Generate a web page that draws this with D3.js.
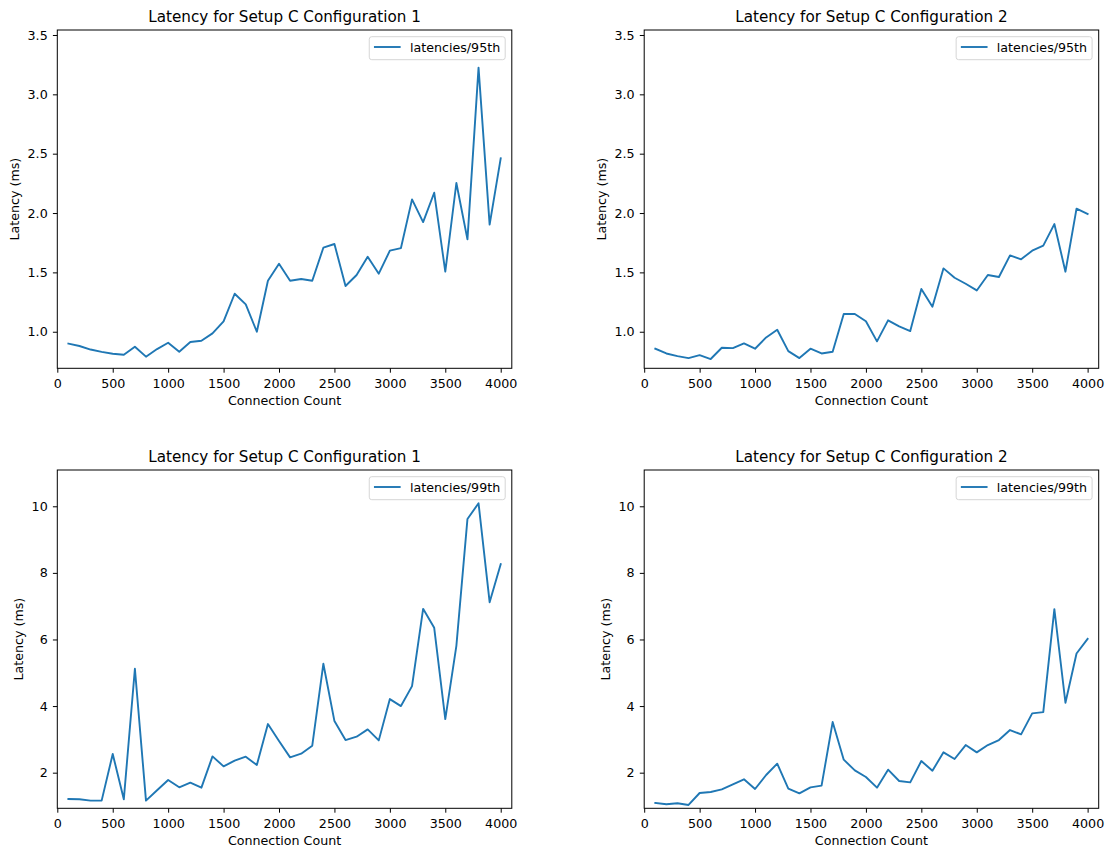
<!DOCTYPE html>
<html>
<head>
<meta charset="utf-8">
<script src="https://cdn.jsdelivr.net/npm/d3@7"></script>
<style>
  body { margin: 0; background: #fff; }
  svg { display: block; font-family: "DejaVu Sans", sans-serif; }
</style>
</head>
<body>
<svg id="chart" width="1108" height="849"></svg>
<script>
// Connection counts sampled in every run
const connectionCounts = [
  100, 200, 300, 400, 500, 600, 700, 800, 900, 1000,
  1100, 1200, 1300, 1400, 1500, 1600, 1700, 1800, 1900, 2000,
  2100, 2200, 2300, 2400, 2500, 2600, 2700, 2800, 2900, 3000,
  3100, 3200, 3300, 3400, 3500, 3600, 3700, 3800, 3900, 4000
];

// 95th percentile latency (ms)
const latency95Config1 = [
  0.90, 0.88, 0.85, 0.83, 0.815, 0.806, 0.874, 0.79, 0.854, 0.907,
  0.831, 0.913, 0.924, 0.986, 1.087, 1.32, 1.23, 1.0, 1.43, 1.573,
  1.43, 1.444, 1.43, 1.708, 1.739, 1.385, 1.478, 1.632, 1.489, 1.683,
  1.705, 2.115, 1.924, 2.171, 1.506, 2.253, 1.778, 3.225, 1.902, 2.461
];
const latency95Config2 = [
  0.857, 0.817, 0.795, 0.778, 0.803, 0.77, 0.865, 0.862, 0.902, 0.857,
  0.952, 1.017, 0.837, 0.778, 0.857, 0.817, 0.831, 1.149, 1.149, 1.088,
  0.919, 1.096, 1.045, 1.006, 1.36, 1.21, 1.534, 1.455, 1.404, 1.348,
  1.478, 1.461, 1.643, 1.61, 1.683, 1.725, 1.907, 1.506, 2.037, 1.992
];

// 99th percentile latency (ms)
const latency99Config1 = [
  1.21, 1.20, 1.16, 1.16, 2.56, 1.20, 5.12, 1.16, 1.47, 1.78,
  1.56, 1.70, 1.55, 2.49, 2.19, 2.36, 2.48, 2.23, 3.46, 2.95,
  2.46, 2.57, 2.81, 5.27, 3.55, 2.98, 3.08, 3.30, 2.97, 4.21,
  4.00, 4.60, 6.92, 6.35, 3.61, 5.81, 9.62, 10.09, 7.12, 8.26
];
const latency99Config2 = [
  1.09, 1.05, 1.08, 1.03, 1.39, 1.42, 1.50, 1.65, 1.80, 1.51,
  1.93, 2.27, 1.52, 1.38, 1.56, 1.61, 3.52, 2.39, 2.07, 1.87,
  1.55, 2.09, 1.75, 1.71, 2.35, 2.06, 2.61, 2.41, 2.83, 2.61,
  2.83, 2.98, 3.28, 3.15, 3.78, 3.82, 6.91, 4.10, 5.58, 6.02
];

// Tick labels
const xTickValues = [0, 500, 1000, 1500, 2000, 2500, 3000, 3500, 4000];
const yTicks95 = [1.0, 1.5, 2.0, 2.5, 3.0, 3.5];
const yTicks99 = [2, 4, 6, 8, 10];

const panelTitles = ["Latency for Setup C Configuration 1", "Latency for Setup C Configuration 2"];
const seriesNames = ["latencies/95th", "latencies/99th"];
const xLabel = "Connection Count";
const yLabel = "Latency (ms)";

// ---- layout ----
const FONT = 12.66;
const TITLE_FONT = 15.2;
const plotW = 454.5;
const plotH = 338.3;
const colLeft = [57.3, 644.2];
const rowTop = [30, 470];
const LINE_COLOR = "#1f77b4";

const panels = [
  { col: 0, row: 0, values: latency95Config1, title: panelTitles[0], name: seriesNames[0], yTicks: yTicks95, yDomain: [0.692, 3.542], fmt: d3.format(".1f") },
  { col: 1, row: 0, values: latency95Config2, title: panelTitles[1], name: seriesNames[0], yTicks: yTicks95, yDomain: [0.692, 3.542], fmt: d3.format(".1f") },
  { col: 0, row: 1, values: latency99Config1, title: panelTitles[0], name: seriesNames[1], yTicks: yTicks99, yDomain: [0.93, 11.09], fmt: d3.format("d") },
  { col: 1, row: 1, values: latency99Config2, title: panelTitles[1], name: seriesNames[1], yTicks: yTicks99, yDomain: [0.93, 11.09], fmt: d3.format("d") }
];

const svg = d3.select("#chart");

panels.forEach(p => {
  const g = svg.append("g")
    .attr("transform", `translate(${colLeft[p.col]},${rowTop[p.row]})`);

  const x = d3.scaleLinear().domain([0, 4100]).range([0, plotW]);
  const y = d3.scaleLinear().domain(p.yDomain).range([plotH, 0]);

  // x axis
  const xAxis = g.append("g")
    .attr("transform", `translate(0,${plotH})`)
    .call(d3.axisBottom(x).tickValues(xTickValues).tickFormat(d3.format("d"))
      .tickSize(4.4).tickPadding(6.2).tickSizeOuter(0));
  xAxis.select(".domain").remove();
  xAxis.selectAll("line").attr("stroke", "#000").attr("stroke-width", 1);
  xAxis.selectAll("text").attr("fill", "#000").style("font-size", FONT + "px").style("font-family", "DejaVu Sans, sans-serif");

  // y axis
  const yAxis = g.append("g")
    .call(d3.axisLeft(y).tickValues(p.yTicks).tickFormat(p.fmt).tickSize(4.4).tickPadding(5.2).tickSizeOuter(0));
  yAxis.select(".domain").remove();
  yAxis.selectAll("line").attr("stroke", "#000").attr("stroke-width", 1);
  yAxis.selectAll("text").attr("fill", "#000").style("font-size", FONT + "px").style("font-family", "DejaVu Sans, sans-serif");

  // series line
  const line = d3.line()
    .x((d, i) => x(connectionCounts[i]))
    .y(d => y(d));
  g.append("path")
    .datum(p.values)
    .attr("d", line)
    .attr("fill", "none")
    .attr("stroke", LINE_COLOR)
    .attr("stroke-width", 1.9)
    .attr("stroke-linejoin", "round")
    .attr("stroke-linecap", "square");

  // axes frame
  g.append("rect")
    .attr("x", 0).attr("y", 0)
    .attr("width", plotW).attr("height", plotH)
    .attr("fill", "none")
    .attr("stroke", "#000")
    .attr("stroke-width", 1);

  // title
  g.append("text")
    .attr("x", plotW / 2).attr("y", -7.6)
    .attr("text-anchor", "middle")
    .attr("fill", "#000")
    .style("font-size", TITLE_FONT + "px")
    .text(p.title);

  // x label
  g.append("text")
    .attr("x", plotW / 2).attr("y", plotH + 36.7)
    .attr("text-anchor", "middle")
    .attr("fill", "#000")
    .style("font-size", FONT + "px")
    .text(xLabel);

  // y label, placed just left of the widest tick label
  let minX = 0;
  yAxis.selectAll("text").each(function () {
    const b = this.getBBox();
    minX = Math.min(minX, b.x);
  });
  g.append("text")
    .attr("transform", `translate(${minX - 8.8},${plotH / 2}) rotate(-90)`)
    .attr("text-anchor", "middle")
    .attr("fill", "#000")
    .style("font-size", FONT + "px")
    .text(yLabel);

  // legend
  const legend = g.append("g");
  const legendText = legend.append("text")
    .attr("fill", "#000")
    .style("font-size", FONT + "px")
    .text(p.name);
  const textW = legendText.node().getComputedTextLength();
  const boxW = 4.7 + 26.7 + 9.3 + textW + 5;
  const boxH = 23;
  const boxRight = plotW - 6.6;
  const boxLeft = boxRight - boxW;
  const boxTop = 6.7;
  legend.insert("rect", "text")
    .attr("x", boxLeft).attr("y", boxTop)
    .attr("width", boxW).attr("height", boxH)
    .attr("rx", 2.5).attr("ry", 2.5)
    .attr("fill", "#fff").attr("fill-opacity", 0.8)
    .attr("stroke", "#d6d6d6").attr("stroke-width", 1);
  legend.append("line")
    .attr("x1", boxLeft + 4.7).attr("x2", boxLeft + 4.7 + 26.7)
    .attr("y1", boxTop + 10.3).attr("y2", boxTop + 10.3)
    .attr("stroke", LINE_COLOR).attr("stroke-width", 1.9);
  legendText
    .attr("x", boxLeft + 4.7 + 26.7 + 9.3)
    .attr("y", boxTop + 10.3 + 4.6);
});
</script>
</body>
</html>
